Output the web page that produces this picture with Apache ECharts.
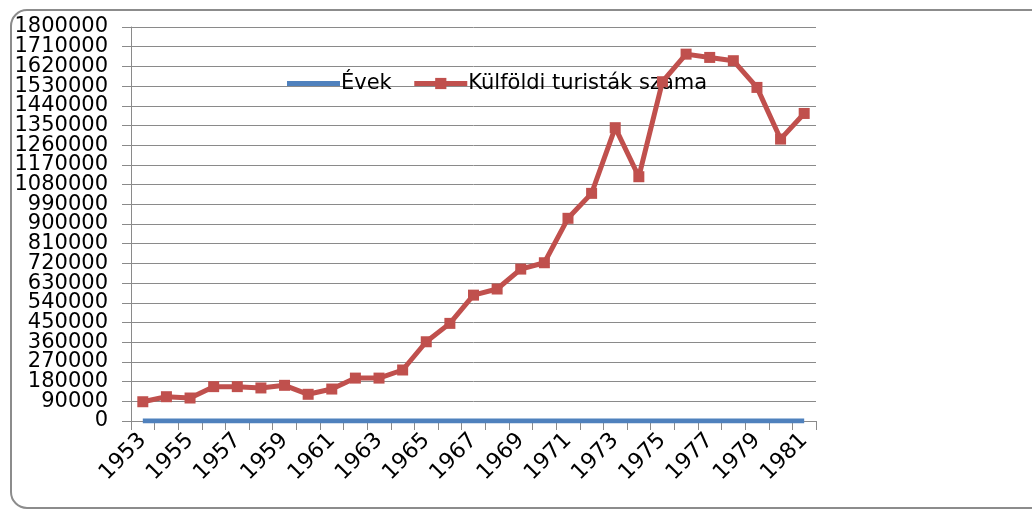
<!DOCTYPE html>
<html>
<head>
<meta charset="utf-8">
<script src="https://cdn.jsdelivr.net/npm/echarts@6/dist/echarts.min.js"></script>
<style>
html,body{margin:0;padding:0;background:#fff;}
#chart{width:1032px;height:511px;}
</style>
</head>
<body>
<div id="chart"></div>
<script>
var years = ['1953','1954','1955','1956','1957','1958','1959','1960','1961','1962','1963','1964','1965','1966','1967','1968','1969','1970','1971','1972','1973','1974','1975','1976','1977','1978','1979','1980','1981'];
var evek = [0,0,0,0,0,0,0,0,0,0,0,0,0,0,0,0,0,0,0,0,0,0,0,0,0,0,0,0,0];
var turistak = [88000,111000,105000,157000,157000,151000,163000,122000,146000,196000,196000,233000,362000,446000,575000,603000,694000,723000,926000,1040000,1340000,1116000,1550000,1676000,1661000,1646000,1524000,1288000,1405000];
var seriesNames = ['Évek','Külföldi turisták száma'];
var yMin = 0, yMax = 1800000, yStep = 90000;

var chart = echarts.init(document.getElementById('chart'));
var font = 'DejaVu Sans';
function labelFor(parity) {
  return function (v) {
    var k = Math.round(v / yStep);
    return (k % 2 === parity) ? String(v) : '';
  };
}
var baseLabel = {margin: 23, fontFamily: font, fontSize: 21, color: '#000'};
chart.setOption({
  animation: false,
  graphic: [{
    type: 'rect',
    shape: {x: 11, y: 10, width: 1040, height: 498, r: 16},
    style: {fill: 'none', stroke: '#8c8c8c', lineWidth: 2},
    z: 0
  }],
  legend: {
    left: 282,
    top: 68,
    itemWidth: 53,
    itemHeight: 14,
    itemGap: 20,
    symbolKeepAspect: true,
    textStyle: {fontFamily: font, fontSize: 21, color: '#000', padding: [0,0,0,-4]},
    data: [
      {name: seriesNames[0], icon: 'path://M0,0L53,0L53,5L0,5Z'},
      {name: seriesNames[1], lineStyle: {width: 5, color: '#C0504D'}}
    ]
  },
  grid: {left: 131, right: 216, top: 27, bottom: 90, containLabel: false},
  xAxis: {
    type: 'category',
    data: years,
    boundaryGap: true,
    axisLine: {lineStyle: {color: '#8a8a8a', width: 1}},
    axisTick: {show: true, interval: 0, length: 9, lineStyle: {color: '#8a8a8a'}},
    axisLabel: {interval: 1, rotate: 45, margin: 16, fontFamily: font, fontSize: 22, color: '#000'},
    splitLine: {show: false}
  },
  yAxis: [
    {
      type: 'value',
      position: 'left',
      min: yMin, max: yMax, interval: yStep,
      axisLine: {show: true, lineStyle: {color: '#8a8a8a', width: 1}},
      axisTick: {show: true, inside: false, length: 9, lineStyle: {color: '#8a8a8a'}},
      axisLabel: Object.assign({}, baseLabel, {formatter: labelFor(0)}),
      splitLine: {show: true, lineStyle: {color: '#8a8a8a', width: 1}}
    },
    {
      type: 'value',
      position: 'left',
      offset: 0,
      min: yMin, max: yMax, interval: yStep,
      axisLine: {show: false},
      axisTick: {show: false},
      axisLabel: Object.assign({}, baseLabel, {formatter: labelFor(1)}),
      splitLine: {show: false}
    }
  ],
  series: [
    {
      name: seriesNames[0],
      type: 'line',
      yAxisIndex: 0,
      data: evek,
      symbol: 'none',
      lineStyle: {color: '#4F81BD', width: 5},
      itemStyle: {color: '#4F81BD'},
      z: 3
    },
    {
      name: seriesNames[1],
      type: 'line',
      yAxisIndex: 0,
      data: turistak,
      symbol: 'rect',
      symbolSize: 11,
      lineStyle: {color: '#C0504D', width: 5},
      itemStyle: {color: '#C0504D'},
      z: 4
    }
  ]
});
</script>
</body>
</html>
